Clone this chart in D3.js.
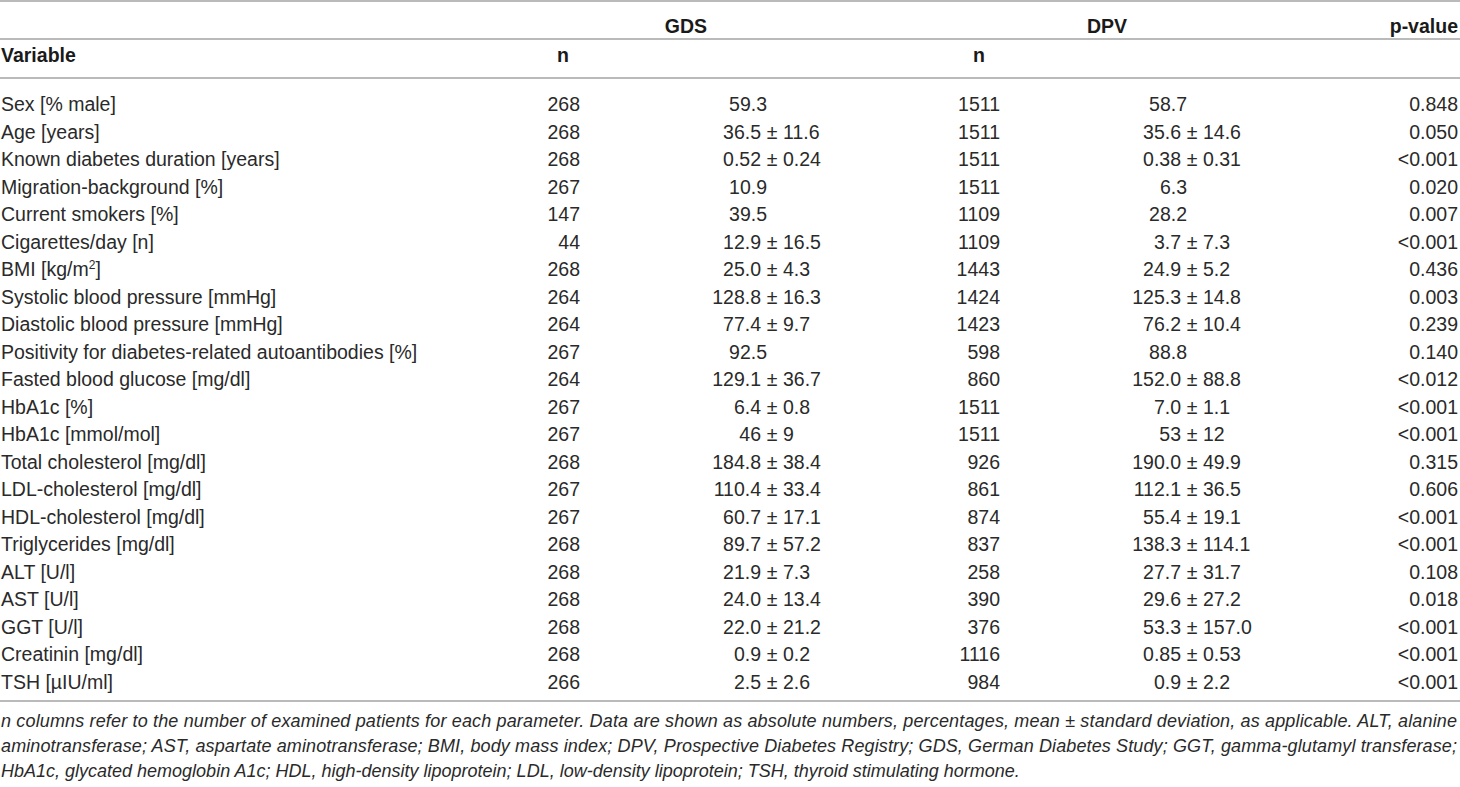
<!DOCTYPE html>
<html>
<head>
<meta charset="utf-8">
<script src="https://cdn.jsdelivr.net/npm/d3@7"></script>
<style>
  body { margin: 0; background: #fff; }
  svg { display: block; font-family: "Liberation Sans", Arial, Helvetica, sans-serif; }
  .cell { font-size: 19.5px; fill: #2a2a2a; }
  .head { font-size: 19.5px; font-weight: bold; fill: #1a1a1a; }
  .note { font-size: 18px; font-style: italic; fill: #2a2a2a; }
  .rule { stroke: #a3a3a3; stroke-width: 1.6; }
</style>
</head>
<body>
<div id="chart"></div>
<script>
const variables = [
  "Sex [% male]", "Age [years]", "Known diabetes duration [years]", "Migration-background [%]",
  "Current smokers [%]", "Cigarettes/day [n]", "BMI [kg/m2]", "Systolic blood pressure [mmHg]",
  "Diastolic blood pressure [mmHg]", "Positivity for diabetes-related autoantibodies [%]",
  "Fasted blood glucose [mg/dl]", "HbA1c [%]", "HbA1c [mmol/mol]", "Total cholesterol [mg/dl]",
  "LDL-cholesterol [mg/dl]", "HDL-cholesterol [mg/dl]", "Triglycerides [mg/dl]", "ALT [U/l]",
  "AST [U/l]", "GGT [U/l]", "Creatinin [mg/dl]", "TSH [µIU/ml]"
];
const gdsN = [268, 268, 268, 267, 147, 44, 268, 264, 264, 267, 264, 267, 267, 268, 267, 267, 268, 268, 268, 268, 268, 266];
const gdsValues = ["59.3", "36.5 ± 11.6", "0.52 ± 0.24", "10.9", "39.5", "12.9 ± 16.5", "25.0 ± 4.3",
  "128.8 ± 16.3", "77.4 ± 9.7", "92.5", "129.1 ± 36.7", "6.4 ± 0.8", "46 ± 9", "184.8 ± 38.4",
  "110.4 ± 33.4", "60.7 ± 17.1", "89.7 ± 57.2", "21.9 ± 7.3", "24.0 ± 13.4", "22.0 ± 21.2",
  "0.9 ± 0.2", "2.5 ± 2.6"];
const dpvN = [1511, 1511, 1511, 1511, 1109, 1109, 1443, 1424, 1423, 598, 860, 1511, 1511, 926, 861, 874, 837, 258, 390, 376, 1116, 984];
const dpvValues = ["58.7", "35.6 ± 14.6", "0.38 ± 0.31", "6.3", "28.2", "3.7 ± 7.3", "24.9 ± 5.2",
  "125.3 ± 14.8", "76.2 ± 10.4", "88.8", "152.0 ± 88.8", "7.0 ± 1.1", "53 ± 12", "190.0 ± 49.9",
  "112.1 ± 36.5", "55.4 ± 19.1", "138.3 ± 114.1", "27.7 ± 31.7", "29.6 ± 27.2", "53.3 ± 157.0",
  "0.85 ± 0.53", "0.9 ± 2.2"];
const pValues = ["0.848", "0.050", "<0.001", "0.020", "0.007", "<0.001", "0.436", "0.003", "0.239",
  "0.140", "<0.012", "<0.001", "<0.001", "0.315", "0.606", "<0.001", "<0.001", "0.108", "0.018",
  "<0.001", "<0.001", "<0.001"];
const groups = ["GDS", "DPV"];
const footnote = [
  "n columns refer to the number of examined patients for each parameter. Data are shown as absolute numbers, percentages, mean ± standard deviation, as applicable. ALT, alanine",
  "aminotransferase; AST, aspartate aminotransferase; BMI, body mass index; DPV, Prospective Diabetes Registry; GDS, German Diabetes Study; GGT, gamma-glutamyl transferase;",
  "HbA1c, glycated hemoglobin A1c; HDL, high-density lipoprotein; LDL, low-density lipoprotein; TSH, thyroid stimulating hormone."
];

const width = 1460, height = 787;
const svg = d3.select("#chart").append("svg")
  .attr("width", width).attr("height", height);

// row baselines
const y = d3.scalePoint().domain(variables).range([111, 688.5]);
// column anchors: n (right edge), value (± centre), p (right edge)
const colX = d3.scaleOrdinal()
  .domain(["label", "gdsN", "gdsVal", "dpvN", "dpvVal", "p"])
  .range([1, 580, 772, 1000, 1192, 1458]);
const groupX = d3.scaleOrdinal().domain(groups).range([686, 1107]);

const rows = variables.map((v, i) => ({
  v, gn: gdsN[i], gv: gdsValues[i], dn: dpvN[i], dv: dpvValues[i], p: pValues[i]
}));

//** RULES */
svg.selectAll(".rule").data([1, 39, 78, 701]).enter().append("line")
  .attr("class", "rule")
  .attr("x1", 0).attr("x2", width)
  .attr("y1", d => d).attr("y2", d => d);

//** HEADER */
svg.selectAll(".grp").data(groups).enter().append("text")
  .attr("class", "head")
  .attr("x", d => groupX(d)).attr("y", 33)
  .attr("text-anchor", "middle")
  .text(d => d);
svg.append("text").attr("class", "head")
  .attr("x", colX("p")).attr("y", 33).attr("text-anchor", "end").text("p-value");
svg.append("text").attr("class", "head")
  .attr("x", colX("label")).attr("y", 61.5).text("Variable");
svg.selectAll(".nh").data([563, 979]).enter().append("text")
  .attr("class", "head")
  .attr("x", d => d).attr("y", 61.5).attr("text-anchor", "middle").text("n");

//** BODY */
const row = svg.selectAll(".row").data(rows).enter().append("g")
  .attr("class", "row")
  .attr("transform", d => `translate(0,${y(d.v)})`);

row.append("text").attr("class", "cell")
  .attr("x", colX("label"))
  .each(function(d) {
    const t = d3.select(this);
    if (d.v.includes("m2]")) {
      const [a, b] = d.v.split("m2");
      t.append("tspan").text(a + "m");
      t.append("tspan").attr("dy", -7).style("font-size", "12px").text("2");
      t.append("tspan").attr("dy", 7).text(b);
    } else t.text(d.v);
  });

row.append("text").attr("class", "cell")
  .attr("x", colX("gdsN")).attr("text-anchor", "end").text(d => d.gn);
row.append("text").attr("class", "cell")
  .attr("x", colX("dpvN")).attr("text-anchor", "end").text(d => d.dn);
row.append("text").attr("class", "cell")
  .attr("x", colX("p")).attr("text-anchor", "end").text(d => d.p);

function valueCell(sel, key, cx) {
  sel.each(function(d) {
    const g = d3.select(this);
    const parts = d[key].split(" ± ");
    if (parts.length === 1) {
      g.append("text").attr("class", "cell")
        .attr("x", cx - 5).attr("text-anchor", "end").text(parts[0]);
      return;
    }
    g.append("text").attr("class", "cell")
      .attr("x", cx - 11).attr("text-anchor", "end").text(parts[0]);
    g.append("text").attr("class", "cell")
      .attr("x", cx).attr("text-anchor", "middle").text("±");
    g.append("text").attr("class", "cell")
      .attr("x", cx + 11).attr("text-anchor", "start").text(parts[1]);
  });
}
row.call(valueCell, "gv", colX("gdsVal"));
row.call(valueCell, "dv", colX("dpvVal"));

//** FOOTNOTE */
svg.selectAll(".note").data(footnote).enter().append("text")
  .attr("class", "note")
  .attr("x", 1)
  .attr("y", (d, i) => 727 + i * 25)
  .each(function(d, i) {
    if (i < 2) d3.select(this).attr("textLength", 1456).attr("lengthAdjust", "spacing");
  })
  .text(d => d);
</script>
</body>
</html>
